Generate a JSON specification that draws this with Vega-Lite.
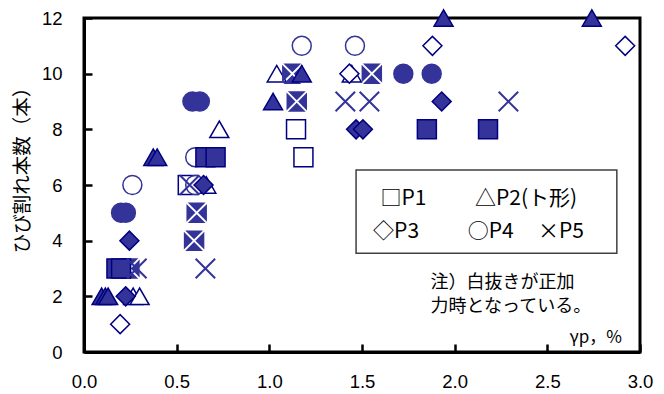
{
  "$schema": "https://vega.github.io/schema/vega-lite/v6.json",
  "width": 556,
  "height": 334,
  "autosize": "none",
  "padding": {"left": 84, "top": 18, "right": 24, "bottom": 42},
  "background": "white",
  "config": {"view": {"stroke": "black", "strokeWidth": 3}},
  "datasets": {
    "pts": [
      {"x": 1.144, "y": 8, "s": "P1", "load": "正"},
      {"x": 1.184, "y": 7, "s": "P1", "load": "正"},
      {"x": 0.56, "y": 6, "s": "P1", "load": "正"},
      {"x": 1.04, "y": 10, "s": "P2", "load": "正"},
      {"x": 1.445, "y": 10, "s": "P2", "load": "正"},
      {"x": 0.73, "y": 8, "s": "P2", "load": "正"},
      {"x": 0.66, "y": 6, "s": "P2", "load": "正"},
      {"x": 0.265, "y": 2, "s": "P2", "load": "正"},
      {"x": 0.3, "y": 2, "s": "P2", "load": "正"},
      {"x": 1.88, "y": 11, "s": "P3", "load": "正"},
      {"x": 2.92, "y": 11, "s": "P3", "load": "正"},
      {"x": 1.432, "y": 10, "s": "P3", "load": "正"},
      {"x": 0.615, "y": 6, "s": "P3", "load": "正"},
      {"x": 0.195, "y": 1, "s": "P3", "load": "正"},
      {"x": 1.175, "y": 11, "s": "P4", "load": "正"},
      {"x": 1.462, "y": 11, "s": "P4", "load": "正"},
      {"x": 0.6, "y": 7, "s": "P4", "load": "正"},
      {"x": 0.6, "y": 6, "s": "P4", "load": "正"},
      {"x": 0.261, "y": 6, "s": "P4", "load": "正"},
      {"x": 1.41, "y": 9, "s": "P5", "load": "正"},
      {"x": 1.54, "y": 9, "s": "P5", "load": "正"},
      {"x": 2.29, "y": 9, "s": "P5", "load": "正"},
      {"x": 0.655, "y": 3, "s": "P5", "load": "正"},
      {"x": 0.285, "y": 3, "s": "P5", "load": "正"},
      {"x": 0.57, "y": 6, "s": "P5", "load": "正"},
      {"x": 1.124, "y": 10, "s": "P5", "load": "負"},
      {"x": 1.553, "y": 10, "s": "P5", "load": "負"},
      {"x": 1.148, "y": 9, "s": "P5", "load": "負"},
      {"x": 0.608, "y": 5, "s": "P5", "load": "負"},
      {"x": 0.594, "y": 4, "s": "P5", "load": "負"},
      {"x": 0.245, "y": 3, "s": "P5", "load": "負"},
      {"x": 1.85, "y": 8, "s": "P1", "load": "負"},
      {"x": 2.18, "y": 8, "s": "P1", "load": "負"},
      {"x": 0.655, "y": 7, "s": "P1", "load": "負"},
      {"x": 0.71, "y": 7, "s": "P1", "load": "負"},
      {"x": 0.175, "y": 3, "s": "P1", "load": "負"},
      {"x": 0.2, "y": 3, "s": "P1", "load": "負"},
      {"x": 1.94, "y": 12, "s": "P2", "load": "負"},
      {"x": 2.74, "y": 12, "s": "P2", "load": "負"},
      {"x": 1.175, "y": 10, "s": "P2", "load": "負"},
      {"x": 1.02, "y": 9, "s": "P2", "load": "負"},
      {"x": 0.374, "y": 7, "s": "P2", "load": "負"},
      {"x": 0.395, "y": 7, "s": "P2", "load": "負"},
      {"x": 0.095, "y": 2, "s": "P2", "load": "負"},
      {"x": 0.115, "y": 2, "s": "P2", "load": "負"},
      {"x": 0.13, "y": 2, "s": "P2", "load": "負"},
      {"x": 1.93, "y": 9, "s": "P3", "load": "負"},
      {"x": 1.468, "y": 8, "s": "P3", "load": "負"},
      {"x": 1.505, "y": 8, "s": "P3", "load": "負"},
      {"x": 0.645, "y": 6, "s": "P3", "load": "負"},
      {"x": 0.245, "y": 4, "s": "P3", "load": "負"},
      {"x": 0.225, "y": 2, "s": "P3", "load": "負"},
      {"x": 1.723, "y": 10, "s": "P4", "load": "負"},
      {"x": 1.876, "y": 10, "s": "P4", "load": "負"},
      {"x": 0.585, "y": 9, "s": "P4", "load": "負"},
      {"x": 0.625, "y": 9, "s": "P4", "load": "負"},
      {"x": 0.2, "y": 5, "s": "P4", "load": "負"},
      {"x": 0.226, "y": 5, "s": "P4", "load": "負"}
    ],
    "legendItems": [
      {"label": "□P1", "lx": 1.6, "ly": 5.49},
      {"label": "△P2(ト形)", "lx": 2.11, "ly": 5.49},
      {"label": "◇P3", "lx": 1.56, "ly": 4.32},
      {"label": "○P4", "lx": 2.07, "ly": 4.32},
      {"label": "×P5", "lx": 2.45, "ly": 4.32}
    ],
    "notes": [
      {"label": "注）白抜きが正加", "lx": 1.87, "ly": 2.48},
      {"label": "力時となっている。", "lx": 1.87, "ly": 1.6}
    ]
  },
  "layer": [
    {
      "data": {"name": "pts"},
      "transform": [{"filter": "!(datum.s === 'P5' && datum.load === '正')"}],
      "mark": {"type": "point", "filled": true, "size": 360, "strokeWidth": 1.5, "opacity": 1},
      "encoding": {
        "x": {
          "field": "x", "type": "quantitative",
          "scale": {"domain": [0, 3], "nice": false, "zero": false},
          "axis": {
            "values": [0, 0.5, 1, 1.5, 2, 2.5, 3], "format": ".1f", "title": null, "grid": false,
            "domainColor": "black", "domainWidth": 3, "tickColor": "black", "tickWidth": 2.5, "tickSize": -8,
            "labelFontSize": 18.5, "labelColor": "black", "labelPadding": 28, "labelFont": "Liberation Sans",
            "labelFlush": false, "labelOverlap": false
          }
        },
        "y": {
          "field": "y", "type": "quantitative",
          "scale": {"domain": [0, 12], "nice": false, "zero": false},
          "axis": {
            "values": [0, 2, 4, 6, 8, 10, 12], "title": "ひび割れ本数（本）", "grid": false,
            "domainColor": "black", "domainWidth": 3, "tickColor": "black", "tickWidth": 2.5, "tickSize": -8,
            "labelFontSize": 18.5, "labelColor": "black", "labelPadding": 30, "labelFont": "Liberation Sans",
            "labelFlush": false, "labelOverlap": false,
            "titleFont": "Noto Sans CJK JP", "titleFontSize": 19.5, "titleFontWeight": "normal", "titleColor": "black",
            "titleX": -62, "titleY": 147, "titleAngle": -90, "titleAlign": "center", "titleBaseline": "middle"
          }
        },
        "shape": {
          "field": "s", "type": "nominal", "legend": null,
          "scale": {"domain": ["P1", "P2", "P3", "P4", "P5"],
            "range": ["square", "triangle-up", "diamond", "circle", "M-0.75,-1L0.75,-1L0,-0.25ZM1,-0.75L1,0.75L0.25,0ZM0.75,1L-0.75,1L0,0.25ZM-1,0.75L-1,-0.75L-0.25,0Z"]}
        },
        "fill": {
          "field": "load", "type": "nominal", "legend": null,
          "scale": {"domain": ["正", "負"], "range": ["white", "#333399"]}
        },
        "stroke": {
          "field": "s", "type": "nominal", "legend": null,
          "scale": {"domain": ["P1", "P2", "P3", "P4", "P5"], "range": ["#000080", "#000080", "#000080", "#333399", "#333399"]}
        }
      }
    },
    {
      "data": {"name": "pts"},
      "transform": [{"filter": "datum.s === 'P5' && datum.load === '正'"}],
      "mark": {"type": "point", "filled": false, "size": 380, "strokeWidth": 2, "stroke": "#333399", "opacity": 1,
        "shape": "M-1,-1L1,1M-1,1L1,-1"},
      "encoding": {
        "x": {"field": "x", "type": "quantitative"},
        "y": {"field": "y", "type": "quantitative"}
      }
    },
    {
      "data": {"values": [{"x1": 1.468, "x2": 2.875, "y1": 6.54, "y2": 3.55}]},
      "mark": {"type": "rect", "fill": "white", "stroke": "#404040", "strokeWidth": 1.5},
      "encoding": {
        "x": {"field": "x1", "type": "quantitative"},
        "x2": {"field": "x2"},
        "y": {"field": "y1", "type": "quantitative"},
        "y2": {"field": "y2"}
      }
    },
    {
      "data": {"name": "legendItems"},
      "mark": {"type": "text", "font": "Noto Sans CJK JP", "fontSize": 21, "align": "left", "baseline": "middle", "color": "black"},
      "encoding": {
        "x": {"field": "lx", "type": "quantitative"},
        "y": {"field": "ly", "type": "quantitative"},
        "text": {"field": "label"}
      }
    },
    {
      "data": {"name": "notes"},
      "mark": {"type": "text", "font": "Noto Sans CJK JP", "fontSize": 18, "align": "left", "baseline": "middle", "color": "black"},
      "encoding": {
        "x": {"field": "lx", "type": "quantitative"},
        "y": {"field": "ly", "type": "quantitative"},
        "text": {"field": "label"}
      }
    },
    {
      "data": {"values": [{"label": "γp，%", "lx": 2.62, "ly": 0.49}]},
      "mark": {"type": "text", "font": "Noto Sans CJK JP", "fontSize": 17, "align": "left", "baseline": "middle", "color": "black"},
      "encoding": {
        "x": {"field": "lx", "type": "quantitative"},
        "y": {"field": "ly", "type": "quantitative"},
        "text": {"field": "label"}
      }
    }
  ]
}
